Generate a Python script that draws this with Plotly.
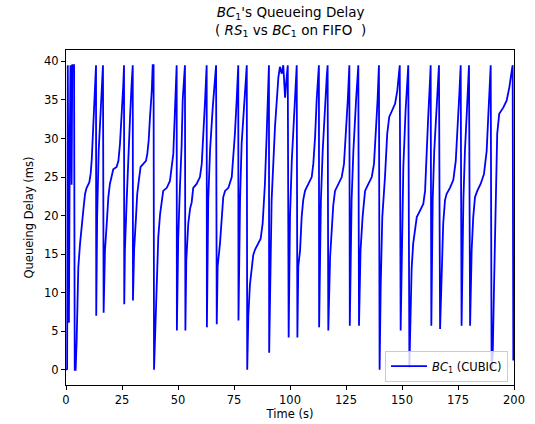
import plotly.graph_objects as go

# Key points (time in s, queueing delay in ms)
time_s = [
    0.0, 0.5, 0.8, 1.3, 1.7, 2.0, 2.2, 2.5, 2.8, 3.6, 3.9,
    4.3, 4.76, 5.5, 6.25, 7.0, 7.7, 8.5, 9.2, 10.4, 11.0, 11.5, 12.2, 12.9, 13.4,
    13.5, 13.9, 14.6, 15.3, 16.0, 16.5,
    16.8, 17.4, 18.2, 18.9, 19.6, 20.4, 21.1, 22.6, 23.4, 24.1, 24.9, 25.6, 25.9,
    26.0, 26.3, 27.1, 27.8, 28.6, 29.3, 29.8,
    29.9, 30.4, 31.25, 31.8, 32.7, 33.3, 34.5, 35.7, 36.3, 36.9, 37.5, 38.3, 38.7, 39.1,
    39.3, 39.6, 40.0, 40.5, 40.8, 41.2, 42.0, 42.7, 43.4, 45.0, 46.4, 47.9, 48.7, 49.4,
    49.5, 50.1, 50.9, 51.6, 52.1, 52.7, 53.1,
    53.3, 53.7, 54.6, 55.4, 56.1, 56.8, 58.3, 59.8, 60.6, 61.3, 62.1, 62.8,
    62.9, 63.5, 64.3, 65.5, 66.5, 67.0,
    67.3, 67.7, 68.75, 69.5, 70.2, 71.0, 72.5, 74.0, 74.7, 75.4, 76.2, 76.9,
    77.0, 77.7, 78.4, 79.5, 80.4, 80.7,
    80.9, 81.4, 82.1, 82.9, 83.6, 84.4, 85.9, 86.9, 87.8, 88.8, 89.6, 90.3, 90.6,
    90.7, 91.1, 91.8, 93.3, 94.0, 94.8, 95.5, 96.3, 97.0, 97.8, 98.5, 99.0,
    99.4, 100.0, 100.8, 101.8, 102.7, 103.0,
    103.3, 103.7, 104.5, 105.2, 105.9, 106.7, 108.2, 109.7, 110.4, 111.2, 111.9, 112.9,
    113.0, 113.8, 114.6, 115.6, 116.4, 116.8,
    117.1, 117.9, 118.6, 119.3, 120.1, 121.6, 123.1, 124.1, 125.0, 125.8, 126.5,
    126.7, 127.5, 128.3, 129.5, 130.5,
    130.8, 131.5, 132.4, 133.5, 135.0, 136.5, 137.5, 138.4, 139.1, 139.7,
    140.0, 140.5, 141.2, 142.4, 143.4, 144.3, 145.4, 146.9, 147.9, 148.4, 149.0,
    149.4, 150.0, 150.6, 151.6, 152.4, 152.8,
    153.3, 153.9, 154.3, 155.0, 155.8, 156.6, 158.0, 159.5, 160.3, 161.0, 161.7, 162.5, 162.8,
    163.1, 163.7, 164.4, 165.5, 166.5,
    167.0, 167.7, 168.4, 169.2, 169.9, 171.4, 172.9, 174.0, 174.9, 175.6, 176.2,
    176.6, 177.4, 178.1, 179.2, 179.9,
    180.4, 181.1, 181.8, 182.6, 183.6, 185.1, 186.6, 187.8, 188.5, 189.3, 189.6,
    190.0, 190.5, 191.1, 191.7, 192.5, 193.4, 195.2, 196.7, 197.9, 199.0, 199.4,
    199.7,
]
delay_ms = [
    0.0, 0.1, 39.5, 6.1, 30.0, 39.5, 33.0, 24.0, 39.5, 39.5, 0.0,
    0.0, 3.8, 13.3, 16.3, 19.0, 20.6, 22.8, 23.6, 24.3, 25.4, 27.3, 31.5, 36.2, 39.5,
    7.0, 19.8, 28.4, 32.8, 36.2, 39.5,
    7.4, 15.5, 19.0, 22.4, 24.1, 25.4, 26.0, 26.3, 27.1, 29.3, 32.8, 37.1, 39.5,
    8.5, 15.5, 22.0, 28.4, 32.8, 37.1, 39.5,
    9.0, 15.5, 19.8, 22.8, 25.0, 26.3, 26.7, 27.1, 28.0, 29.7, 32.8, 36.2, 39.5, 39.5,
    0.0, 2.5, 8.0, 11.1, 14.6, 17.2, 20.2, 22.0, 23.2, 23.6, 24.5, 28.0, 35.0, 39.5,
    5.1, 17.0, 24.0, 28.9, 35.0, 38.0, 39.5,
    5.1, 14.2, 19.0, 20.9, 21.7, 23.6, 24.1, 25.0, 26.7, 30.2, 35.0, 39.5,
    5.5, 22.0, 28.4, 34.0, 37.9, 39.5,
    5.9, 13.4, 16.4, 19.8, 22.4, 23.2, 23.6, 25.0, 27.6, 30.6, 35.0, 39.5,
    6.4, 22.0, 29.3, 35.0, 39.5, 39.5,
    0.0, 7.0, 11.0, 13.5, 14.9, 15.6, 16.4, 17.0, 19.0, 24.1, 30.6, 37.0, 39.5,
    2.2, 11.0, 22.0, 31.5, 35.0, 37.9, 39.3, 38.4, 39.5, 35.3, 37.9, 39.5,
    4.2, 19.8, 27.1, 33.6, 38.0, 39.5,
    4.2, 13.4, 15.5, 19.8, 22.0, 23.2, 24.1, 25.0, 26.7, 30.2, 35.0, 39.5,
    5.5, 22.0, 28.4, 34.4, 38.0, 39.5,
    5.1, 14.6, 18.0, 21.3, 23.2, 24.1, 25.0, 26.7, 30.6, 35.0, 39.5,
    5.7, 22.0, 28.4, 35.0, 39.5,
    5.7, 15.5, 19.8, 23.2, 24.1, 25.0, 26.7, 30.6, 35.0, 39.5,
    0.0, 11.0, 19.8, 25.0, 30.6, 32.8, 33.6, 34.5, 36.2, 37.5, 39.5,
    5.1, 19.8, 26.3, 33.6, 37.8, 39.5,
    0.3, 8.4, 13.1, 16.4, 18.5, 19.8, 20.6, 21.5, 23.2, 27.1, 32.8, 37.5, 39.5,
    5.7, 22.0, 28.4, 34.4, 39.5,
    5.3, 14.2, 19.0, 22.0, 22.8, 23.6, 24.6, 27.1, 31.5, 35.8, 39.5,
    5.7, 22.0, 28.4, 35.0, 39.5,
    5.7, 15.5, 19.8, 22.4, 23.2, 24.1, 25.4, 28.4, 32.8, 37.5, 39.5,
    0.2, 2.0, 11.0, 22.0, 30.6, 33.2, 34.0, 34.9, 36.6, 38.8, 39.5,
    1.2,
]

x_ticks = [0, 25, 50, 75, 100, 125, 150, 175, 200]
y_ticks = [0, 5, 10, 15, 20, 25, 30, 35, 40]

series_name = "<i>BC</i><sub>1</sub> (CUBIC)"
title_text = ("<i>BC</i><sub>1</sub>'s Queueing Delay<br>"
              "( <i>RS</i><sub>1</sub> vs <i>BC</i><sub>1</sub> on FIFO  )")

fig = go.Figure()
fig.add_trace(go.Scatter(
    x=time_s, y=delay_ms, mode="lines", name=series_name,
    line=dict(color="#0000ff", width=1.8),
    showlegend=True,
))

font_family = "DejaVu Sans"
fig.update_layout(
    width=535, height=424,
    margin=dict(l=66, r=21, t=50, b=39, autoexpand=False),
    paper_bgcolor="white", plot_bgcolor="white",
    font=dict(family=font_family, size=11.5, color="black"),
    showlegend=True,
    legend=dict(x=0.9866, y=0.01, xanchor="right", yanchor="bottom",
                bgcolor="rgba(255,255,255,0.8)", bordercolor="#cccccc", borderwidth=1,
                font=dict(family=font_family, size=11.5, color="black"),
                itemwidth=36),
    annotations=[dict(
        text=title_text, x=0.5, y=1, xref="paper", yref="paper",
        xanchor="center", yanchor="bottom", yshift=9, showarrow=False,
        align="center", font=dict(family=font_family, size=13.5, color="black"),
    )],
)
fig.update_xaxes(
    range=[0, 200], tickvals=x_ticks, ticktext=[str(v) for v in x_ticks],
    showline=True, linecolor="black", linewidth=1, mirror=True, automargin=False,
    ticks="outside", ticklen=4, tickcolor="black", showgrid=False, zeroline=False,
    title=dict(text="Time (s)", standoff=2, font=dict(family=font_family, size=11.5)),
)
fig.update_yaxes(
    range=[-1.975, 41.475], tickvals=y_ticks, ticktext=[str(v) for v in y_ticks],
    showline=True, linecolor="black", linewidth=1, mirror=True, automargin=False,
    ticks="outside", ticklen=4, tickcolor="black", showgrid=False, zeroline=False,
    title=dict(text="Queueing Delay (ms)", standoff=8, font=dict(family=font_family, size=11.5)),
)

fig.write_html("out.html", config={"displayModeBar": False},
               post_script="document.body.style.margin='0';")
